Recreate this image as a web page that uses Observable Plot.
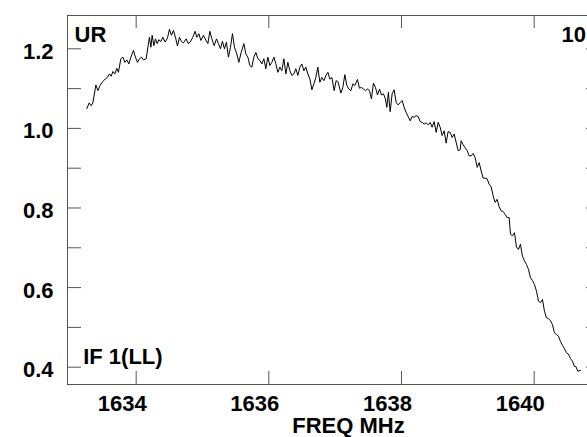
<!DOCTYPE html>
<html>
<head>
<meta charset="utf-8">
<script src="https://cdn.jsdelivr.net/npm/d3@7"></script>
<script src="https://cdn.jsdelivr.net/npm/@observablehq/plot@0.6"></script>
<style>
  html, body { margin: 0; padding: 0; overflow: hidden; background: #fff; }
  #chart { width: 587px; height: 437px; overflow: hidden; }
  #chart svg { max-width: none !important; display: block; }
</style>
</head>
<body>
<div id="chart"></div>
<script>
// Frequency (MHz) of each channel
const freq = [
  1633.257,1633.291,1633.322,1633.347,1633.393,1633.423,1633.457,1633.498,1633.533,1633.567,
  1633.598,1633.623,1633.649,1633.679,1633.709,1633.733,1633.769,1633.800,1633.830,1633.860,
  1633.890,1633.920,1633.959,1633.989,1634.020,1634.050,1634.080,1634.110,1634.151,1634.181,
  1634.200,1634.222,1634.241,1634.267,1634.291,1634.317,1634.342,1634.372,1634.402,1634.437,
  1634.472,1634.502,1634.532,1634.562,1634.598,1634.623,1634.653,1634.683,1634.713,1634.754,
  1634.784,1634.814,1634.855,1634.889,1634.915,1634.945,1634.975,1635.015,1635.040,1635.081,
  1635.111,1635.141,1635.176,1635.211,1635.241,1635.271,1635.301,1635.331,1635.361,1635.391,
  1635.422,1635.452,1635.482,1635.518,1635.548,1635.583,1635.624,1635.654,1635.684,1635.714,
  1635.744,1635.774,1635.804,1635.835,1635.865,1635.895,1635.925,1635.955,1635.985,1636.016,
  1636.046,1636.076,1636.106,1636.136,1636.166,1636.196,1636.227,1636.257,1636.287,1636.317,
  1636.347,1636.377,1636.407,1636.438,1636.468,1636.498,1636.528,1636.558,1636.588,1636.619,
  1636.649,1636.679,1636.709,1636.739,1636.769,1636.799,1636.830,1636.860,1636.890,1636.920,
  1636.950,1636.985,1637.015,1637.045,1637.086,1637.116,1637.146,1637.176,1637.206,1637.237,
  1637.267,1637.297,1637.336,1637.366,1637.396,1637.427,1637.457,1637.487,1637.517,1637.547,
  1637.577,1637.607,1637.638,1637.668,1637.698,1637.728,1637.758,1637.779,1637.803,1637.829,
  1637.859,1637.889,1637.920,1637.950,1637.980,1638.010,1638.040,1638.070,1638.100,1638.131,
  1638.161,1638.191,1638.221,1638.251,1638.281,1638.311,1638.342,1638.372,1638.402,1638.432,
  1638.462,1638.492,1638.523,1638.553,1638.583,1638.613,1638.643,1638.673,1638.703,1638.734,
  1638.764,1638.794,1638.824,1638.854,1638.884,1638.899,1638.930,1638.960,1638.990,1639.020,
  1639.050,1639.080,1639.110,1639.141,1639.171,1639.201,1639.231,1639.261,1639.291,1639.321,
  1639.352,1639.382,1639.412,1639.442,1639.472,1639.502,1639.533,1639.563,1639.593,1639.623,
  1639.643,1639.673,1639.703,1639.733,1639.763,1639.793,1639.823,1639.854,1639.884,1639.914,
  1639.944,1639.974,1640.004,1640.035,1640.065,1640.095,1640.125,1640.155,1640.185,1640.215,
  1640.245,1640.276,1640.306,1640.336,1640.366,1640.396,1640.426,1640.456,1640.487,1640.517,
  1640.547,1640.577,1640.607,1640.628,1640.658,1640.698
];
// Bandpass amplitude
const amp = [
  1.050,1.064,1.057,1.064,1.109,1.095,1.108,1.118,1.124,1.128,
  1.137,1.131,1.143,1.137,1.151,1.141,1.175,1.179,1.166,1.172,
  1.162,1.179,1.196,1.179,1.166,1.175,1.179,1.172,1.175,1.208,
  1.229,1.204,1.234,1.208,1.225,1.213,1.223,1.218,1.229,1.217,
  1.227,1.249,1.234,1.246,1.225,1.207,1.229,1.218,1.215,1.225,
  1.213,1.217,1.229,1.244,1.229,1.238,1.221,1.234,1.225,1.213,
  1.244,1.225,1.208,1.225,1.213,1.200,1.219,1.200,1.217,1.179,
  1.204,1.238,1.204,1.187,1.166,1.191,1.213,1.187,1.179,1.158,
  1.154,1.179,1.191,1.175,1.171,1.162,1.175,1.150,1.179,1.158,
  1.166,1.179,1.162,1.141,1.154,1.145,1.175,1.137,1.166,1.145,
  1.133,1.137,1.150,1.133,1.154,1.162,1.145,1.154,1.137,1.124,
  1.097,1.112,1.128,1.154,1.116,1.128,1.120,1.133,1.141,1.124,
  1.128,1.095,1.120,1.116,1.089,1.103,1.135,1.108,1.099,1.095,
  1.112,1.108,1.123,1.101,1.103,1.099,1.095,1.099,1.095,1.074,
  1.114,1.103,1.084,1.099,1.084,1.087,1.074,1.053,1.091,1.042,
  1.087,1.097,1.065,1.059,1.065,1.070,1.053,1.040,1.030,1.019,
  1.030,1.028,1.032,1.030,1.017,1.015,1.011,1.014,1.009,1.015,
  1.003,1.017,0.990,1.015,1.003,0.982,0.994,0.963,0.992,0.990,
  0.977,0.986,0.965,0.944,0.946,0.969,0.959,0.951,0.944,0.931,
  0.931,0.937,0.927,0.902,0.914,0.893,0.875,0.875,0.873,0.860,
  0.853,0.830,0.814,0.822,0.803,0.793,0.791,0.784,0.776,0.776,
  0.734,0.730,0.738,0.702,0.696,0.709,0.679,0.667,0.658,0.646,
  0.625,0.618,0.608,0.591,0.566,0.562,0.570,0.541,0.524,0.522,
  0.517,0.507,0.486,0.482,0.478,0.465,0.455,0.447,0.436,0.433,
  0.422,0.415,0.402,0.402,0.390,0.392
];
const xTicks = [1634, 1636, 1638, 1640];
const yMajor = [0.4, 0.6, 0.8, 1.0, 1.2];
const yMinor = [0.4, 0.5, 0.6, 0.7, 0.8, 0.9, 1.0, 1.1, 1.2];
const xDomain = [1632.965, 1641.0];
const yDomain = [0.3565, 1.2837];
const xLabel = "FREQ MHz";
const cornerTL = "UR";
const cornerBL = "IF 1(LL)";
const cornerTR = "10";

const data = freq.map((f, i) => ({f, a: amp[i]}));

const W = 601, H = 437;
const mL = 67, mR = 1, mT = 15, mB = 53;
const fw = W - mL - mR, fh = H - mT - mB;
const axisColor = "#555";

const chart = Plot.plot({
  width: W,
  height: H,
  marginLeft: mL, marginRight: mR, marginTop: mT, marginBottom: mB,
  x: {domain: xDomain},
  y: {domain: yDomain},
  style: {fontFamily: "'Liberation Sans', Arial, sans-serif", fontSize: "22px", fontWeight: "bold", background: "#fff", color: "#000", maxWidth: "none"},
  marks: [
    Plot.frame({stroke: axisColor}),
    // inward ticks: bottom & top
    Plot.tickX(xTicks, {x: d => d, stroke: axisColor, insetTop: fh - 13}),
    Plot.tickX(xTicks, {x: d => d, stroke: axisColor, insetBottom: fh - 13}),
    // inward ticks: left & right
    Plot.tickY(yMinor, {y: d => d, stroke: axisColor, insetRight: fw - 14}),
    Plot.tickY(yMinor, {y: d => d, stroke: axisColor, insetLeft: fw - 14}),
    Plot.axisX({ticks: xTicks, tickSize: 0, tickPadding: 11, tickFormat: "d", label: null, dx: -14}),
    Plot.axisY({ticks: yMajor, tickSize: 0, tickPadding: 14, tickFormat: ".1f", label: null, dy: 3}),
    Plot.line(data, {x: "f", y: "a", stroke: "#000", strokeWidth: 1}),
    Plot.text([cornerTL], {frameAnchor: "top-left", textAnchor: "start", lineAnchor: "bottom", dx: 7, dy: 26.7}),
    Plot.text([cornerBL], {frameAnchor: "bottom-left", textAnchor: "start", lineAnchor: "bottom", dx: 15.7, dy: -21}),
    Plot.text([cornerTR], {frameAnchor: "top-right", textAnchor: "start", lineAnchor: "bottom", dx: -39, dy: 26.7}),
    Plot.text([xLabel], {frameAnchor: "bottom", textAnchor: "middle", lineAnchor: "bottom", dx: 14.5, dy: 48})
  ]
});
document.getElementById("chart").appendChild(chart);
</script>
</body>
</html>
